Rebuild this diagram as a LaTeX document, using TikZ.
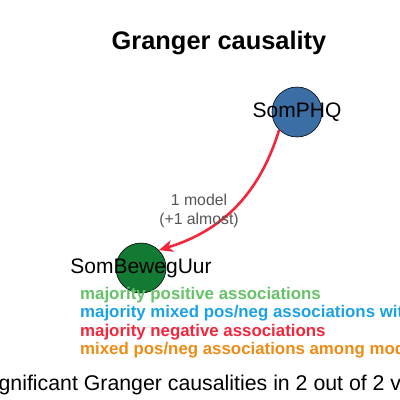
\documentclass[tikz,border=0pt]{standalone}
\usepackage{fontspec}
\setmainfont{Liberation Sans}
\usepackage{tikz}
\usetikzlibrary{positioning,arrows.meta,calc}
\definecolor{phqblue}{RGB}{58,110,165}
\definecolor{bewgreen}{RGB}{18,122,50}
\definecolor{posgreen}{RGB}{102,194,104}
\definecolor{mixblue}{RGB}{28,162,228}
\definecolor{negred}{RGB}{242,38,60}
\definecolor{mixorange}{RGB}{236,140,22}
\definecolor{edgegray}{RGB}{85,85,85}

\begin{document}
\begin{tikzpicture}[x=1pt, y=-1pt,
  var/.style={circle, draw=black, line width=0.6pt, fill=#1, minimum size=50pt, inner sep=0pt},
  varlab/.style={font=\fontsize{21}{22}\selectfont, inner sep=0pt},
  leg/.style={font=\fontsize{16.85}{18}\bfseries\selectfont, text=#1, anchor=base west, inner sep=0pt},
  ar/.style={-{Stealth[length=14pt, width=12pt, inset=4pt]}, line width=2.6pt, #1},
]
\useasboundingbox (0,0) rectangle (400,400);
\clip (0,0) rectangle (400,400);

\node[font=\fontsize{25.4}{27}\bfseries\selectfont, anchor=base, inner sep=0pt] (title) at (219,49) {Granger causality};

\node[var=phqblue]   (phq)  at (297,112) {};
\node[var=bewgreen]  (bew)  at (141,268) {};
\node[varlab] (phqtxt) at (phq) {SomPHQ};
\node[varlab] (bewtxt) at (bew) {SomBewegUur};

\draw[ar=negred] (phq.225) to[bend left=28] (bew.45);
\node[font=\fontsize{15.8}{19}\selectfont, text=edgegray, align=center, inner sep=0pt] (elab) at (199,211) {1 model\\(+1 almost)};

% legend
\foreach \txt/\col [count=\i] in {{majority positive associations}/posgreen,
    {majority mixed pos/neg associations with}/mixblue,
    {majority negative associations}/negred,
    {mixed pos/neg associations among models}/mixorange}
  \node[leg=\col] (leg\i) at (80, 281+18.4*\i) {\txt};

\node[font=\fontsize{21.3}{22}\selectfont, anchor=base west, inner sep=0pt] (foot) at (-20.5,390) {Significant Granger causalities in 2 out of 2 v};

\end{tikzpicture}
\end{document}
